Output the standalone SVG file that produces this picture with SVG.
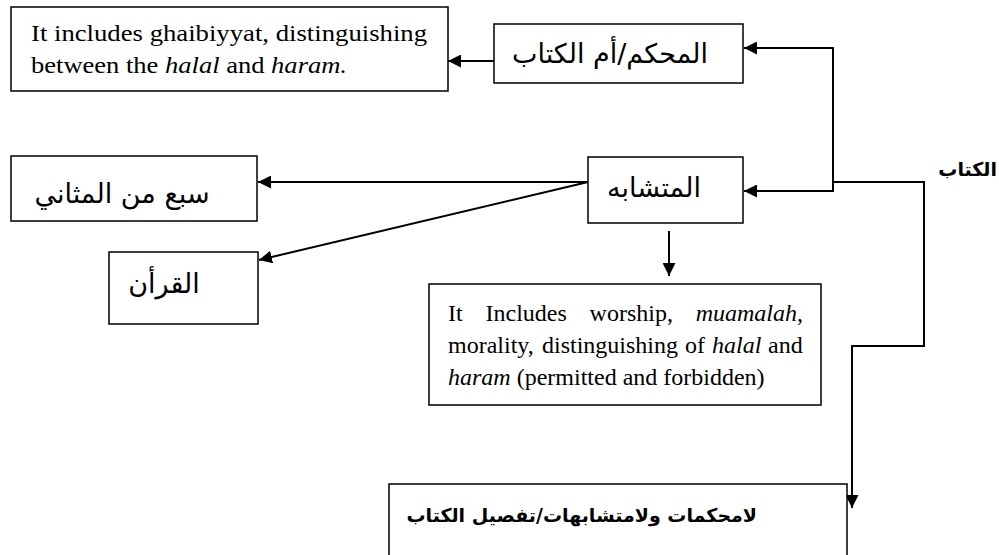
<svg xmlns="http://www.w3.org/2000/svg" width="999" height="555" viewBox="0 0 999 555">
<style>
.box{fill:#fff;stroke:#000;stroke-width:1.5}
.en{font-family:"Liberation Serif","Times New Roman",serif;font-size:24px;fill:#000}
.ar{font-family:"DejaVu Sans","Noto Sans",sans-serif;font-size:27px;fill:#000}
.arb{font-family:"DejaVu Sans","Noto Sans",sans-serif;font-size:19px;font-weight:bold;fill:#000}
.ln{fill:none;stroke:#000;stroke-width:2}
</style>
<defs>
<marker id="ah" viewBox="0 0 10 10" refX="10" refY="5" markerWidth="6.5" markerHeight="6.5" markerUnits="strokeWidth" orient="auto">
<path d="M0,0 L10,5 L0,10 z" fill="#000"/>
</marker>
</defs>
<g id="connectors">
<line class="ln" x1="494" y1="61" x2="448" y2="61" marker-end="url(#ah)"/>
<polyline class="ln" points="833,182 833,48 744,48" marker-end="url(#ah)"/>
<polyline class="ln" points="833,182 833,191 744,191" marker-end="url(#ah)"/>
<polyline class="ln" points="833,182 924,182 924,346 852,346 852,508" marker-end="url(#ah)"/>
<line class="ln" x1="588" y1="182" x2="258" y2="182" marker-end="url(#ah)"/>
<line class="ln" x1="588" y1="182" x2="259" y2="260" marker-end="url(#ah)"/>
<line class="ln" x1="669" y1="231" x2="669" y2="276" marker-end="url(#ah)"/>
</g>
<g id="note1">
<rect class="box" x="11" y="7" width="437" height="84"/>
<text class="en" x="31" y="41" textLength="396" lengthAdjust="spacingAndGlyphs">It includes ghaibiyyat, distinguishing</text>
<text class="en" x="31" y="73" textLength="316" lengthAdjust="spacingAndGlyphs">between the <tspan font-style="italic">halal</tspan> and <tspan font-style="italic">haram.</tspan></text>
</g>
<g id="muhkam">
<rect class="box" x="494" y="24" width="249" height="59"/>
<text class="ar" x="610" y="63" text-anchor="middle">المحكم/أم الكتاب</text>
</g>
<g id="mutashabih">
<rect class="box" x="588" y="157" width="155" height="66"/>
<text class="ar" x="654" y="197" text-anchor="middle">المتشابه</text>
</g>
<g id="sab">
<rect class="box" x="11" y="156" width="246" height="65"/>
<text class="ar" x="122" y="203" text-anchor="middle">سبع من المثاني</text>
</g>
<g id="quran">
<rect class="box" x="109" y="252" width="149" height="72"/>
<text class="ar" x="164" y="293" text-anchor="middle">القرأن</text>
</g>
<g id="note2">
<rect class="box" x="429" y="284" width="392" height="121"/>
<text class="en" y="321"><tspan x="448">It</tspan><tspan x="485.5">Includes</tspan><tspan x="589.6">worship,</tspan><tspan x="695.7" font-style="italic">muamalah</tspan>,</text>
<text class="en" y="353"><tspan x="448">morality,</tspan><tspan x="542">distinguishing</tspan><tspan x="685">of</tspan><tspan x="712" font-style="italic">halal</tspan><tspan x="768">and</tspan></text>
<text class="en" y="385" x="448"><tspan font-style="italic">haram</tspan> (permitted and forbidden)</text>
</g>
<g id="kitab">
<text class="arb" x="997" y="176" text-anchor="end">الكتاب</text>
</g>
<g id="tafsil">
<rect class="box" x="389" y="484" width="458" height="90"/>
<text class="arb" x="757" y="522" text-anchor="end">لامحكمات ولامتشابهات/تفصيل الكتاب</text>
</g>
</svg>
